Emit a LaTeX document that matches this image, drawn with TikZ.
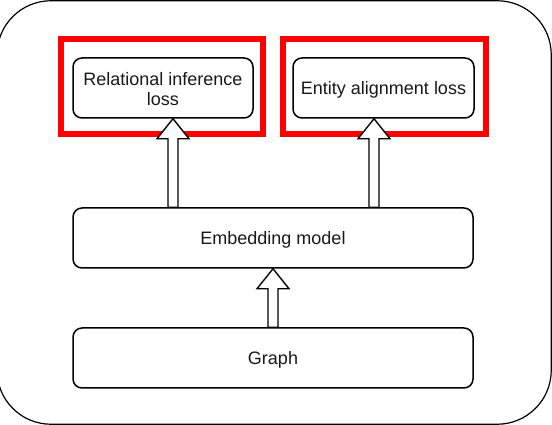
\documentclass[tikz,border=0pt]{standalone}
\usepackage{fontspec}
\setmainfont{Liberation Sans}
\usetikzlibrary{calc}
\tikzset{
  box/.style={draw=black, line width=1.5pt, fill=white, rounded corners=9pt,
    minimum height=60pt, inner sep=0pt, align=center,
    font=\fontsize{18}{20.5}\selectfont, text=black!90},
  oneline/.style={text height=14pt, text depth=0pt},
  redframe/.style={draw=red, line width=6pt},
  outerframe/.style={draw=black, line width=1.2pt, rounded corners=54pt},
  blockarr/.style={draw=black, line width=1.4pt, fill=white, line join=miter},
}
\newcommand\blockarrow[2]{%
  \draw[blockarr] let \p1=(#1), \p2=(#2) in
    (\x1-5pt,\y1) -- (\x1-5pt,\y2-20pt) -- (\x1-16pt,\y2-20pt) -- (\x2,\y2)
    -- (\x1+16pt,\y2-20pt) -- (\x1+5pt,\y2-20pt) -- (\x1+5pt,\y1) -- cycle;}
\begin{document}
\begin{tikzpicture}[x=1pt,y=1pt]
\useasboundingbox (0,0) rectangle (552,425);
\fill[white] (0,0) rectangle (552,425);
% outer frame
\draw[outerframe] (-3,0.75) rectangle (551.25,424.25);
% red frames
\draw[redframe] (61,385.5) rectangle (263,291);
\draw[redframe] (283,385.5) rectangle (486,291);
% boxes
\node[box, minimum width=180pt] (rel) at (163,337) {};
\node[align=center, font=\fontsize{18}{20.5}\selectfont, text=black!90, inner sep=0pt]
  (reltext) at ([yshift=-1pt]rel.center) {Relational inference\\loss};
\node[box, oneline, minimum width=181pt] (ent) at (383.5,337) {Entity alignment loss};
\node[box, oneline, minimum width=400pt] (emb) at (273,187) {Embedding model};
\node[box, oneline, minimum width=400pt] (graph) at (273,67) {Graph};
% arrow end points
\coordinate (a1s) at ([xshift=-100pt]emb.north);
\coordinate (a1e) at (a1s |- rel.south);
\coordinate (a2s) at ([xshift=101pt]emb.north);
\coordinate (a2e) at (a2s |- ent.south);
% arrows
\blockarrow{a1s}{a1e}
\blockarrow{a2s}{a2e}
\blockarrow{graph.north}{emb.south}
\end{tikzpicture}
\end{document}
